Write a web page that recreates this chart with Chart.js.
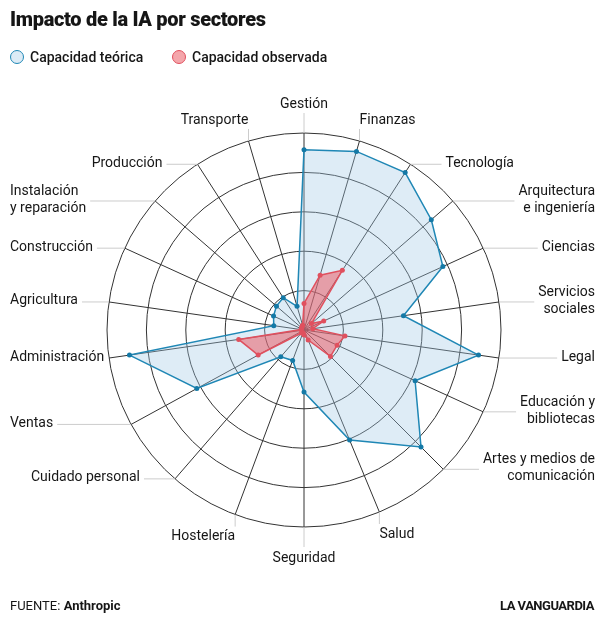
<!DOCTYPE html>
<html lang="es">
<head>
<meta charset="UTF-8">
<title>Impacto de la IA por sectores</title>
<script src="https://cdn.jsdelivr.net/npm/chart.js"></script>
<style>
  body { margin: 0; background: #fff; }
  #wrap { position: relative; width: 607px; height: 621px; overflow: hidden; font-family: Roboto, "Liberation Sans", sans-serif; color: #161616; }
  #chart { position: absolute; left: 0; top: 0; }
  h1 { position: absolute; left: 10px; top: 7px; margin: 0; font-size: 20px; line-height: 24px; font-weight: 900; letter-spacing: -0.3px; }
  .leg { position: absolute; top: 49px; font-size: 14px; line-height: 16px; font-weight: 500; }
  .leg i { display: inline-block; width: 12px; height: 12px; border-radius: 50%; vertical-align: -2px; margin-right: 6px; border: 1.5px solid; }
  #fuente { position: absolute; left: 10px; top: 598px; font-size: 13px; line-height: 16px; }
  #marca { position: absolute; right: 13px; top: 598px; font-size: 13px; line-height: 16px; font-weight: 700; letter-spacing: -0.5px; }
</style>
</head>
<body>
<div id="wrap">
  <canvas id="chart" width="607" height="621"></canvas>
  <h1>Impacto de la IA por sectores</h1>
  <div class="leg" style="left:10px"><i style="background:#dcebf6;border-color:#1f87b5"></i>Capacidad teórica</div>
  <div class="leg" style="left:172px"><i style="background:#f4a6ab;border-color:#e0505e"></i>Capacidad observada</div>
  <div id="fuente">FUENTE: <b>Anthropic</b></div>
  <div id="marca">LA VANGUARDIA</div>
</div>
<script>
// sectores, en el sentido de las agujas del reloj desde arriba
const categories = ['Gestión', 'Finanzas', 'Tecnología', ['Arquitectura', 'e ingeniería'], 'Ciencias',
  ['Servicios', 'sociales'], 'Legal', ['Educación y', 'bibliotecas'], ['Artes y medios de', 'comunicación'],
  'Salud', 'Seguridad', 'Hostelería', 'Cuidado personal', 'Ventas', 'Administración', 'Agricultura',
  'Construcción', ['Instalación', 'y reparación'], 'Producción', 'Transporte'];

// % de tareas
const teorica   = [91.5, 94.5, 95, 85.5, 77.5, 51, 89.5, 62, 84, 60.5, 31.5, 16.5, 18, 62, 89.5, 15.5, 17, 18.5, 19.5, 12.5];
const observada = [13.5, 29, 36, 5, 11, 4.5, 21, 18.5, 19, 5.5, 2.5, 1.5, 2, 26.5, 33.5, 1.5, 1.5, 1.5, 2, 2.5];

const ticks = [0, 20, 40, 60, 80, 100];

// los radios no están repartidos por igual: cada sector ocupa una posición de una rejilla de 176 pasos
const slots = 176;
const spokeSlot = [0, 8, 16, 24, 32, 40, 48, 56, 66, 77, 88, 98, 108, 118, 128, 136, 144, 152, 160, 168];

function toSlots(values) {
  const out = new Array(slots).fill(null);
  spokeSlot.forEach((s, i) => { out[s] = values[i]; });
  return out;
}
const slotLabels = toSlots(categories).map(l => l === null ? '' : l);
const used = new Set(spokeSlot);

const sectorLabels = {
  id: 'sectorLabels',
  afterDraw(chart) {
    const scale = chart.scales.r;
    const ctx = chart.ctx;
    const lh = 17, gap = 35;
    ctx.save();
    ctx.font = '14px Roboto, "Liberation Sans", sans-serif';
    ctx.fillStyle = '#161616';
    ctx.strokeStyle = '#cccccc';
    ctx.lineWidth = 1;
    ctx.textBaseline = 'middle';
    spokeSlot.forEach((slot, i) => {
      const lines = [].concat(categories[i]);
      const end = scale.getPointPosition(slot, scale.drawingArea);
      const a = scale.getIndexAngle(slot);
      const sin = Math.sin(a), cos = Math.cos(a);
      ctx.beginPath();
      if (Math.abs(sin) < 0.45) {
        // arriba y abajo: guía vertical
        const dir = cos > 0 ? -1 : 1;
        const centred = Math.abs(sin) < 0.01;
        const y2 = end.y + dir * (centred ? 20 : 12);
        ctx.moveTo(end.x, end.y);
        ctx.lineTo(end.x, y2);
        ctx.stroke();
        ctx.textAlign = centred ? 'center' : (sin > 0 ? 'left' : 'right');
        ctx.fillText(lines[0], end.x, y2 + dir * (centred ? 10 : 9) + 1);
      } else {
        // laterales: guía horizontal, pegadas al margen si el radio es casi horizontal
        const right = sin > 0;
        const w = Math.max(...lines.map(l => ctx.measureText(l).width));
        const toEdge = Math.abs(sin) > 0.7;
        let edge, tx, align;
        if (right) {
          edge = toEdge ? 595 - w : end.x + gap;
          tx = toEdge ? 595 : edge;
          align = toEdge ? 'right' : 'left';
        } else {
          edge = toEdge ? 10 + w : end.x - gap;
          tx = toEdge ? 10 : edge;
          align = toEdge ? 'left' : 'right';
        }
        ctx.moveTo(end.x, end.y);
        ctx.lineTo(right ? edge - 4 : edge + 4, end.y);
        ctx.stroke();
        ctx.textAlign = align;
        const y0 = end.y - 1 - (lines.length - 1) * lh / 2;
        lines.forEach((l, k) => ctx.fillText(l, tx, y0 + k * lh));
      }
    });
    ctx.restore();
  }
};

new Chart(document.getElementById('chart'), {
  type: 'radar',
  data: {
    labels: slotLabels,
    datasets: [
      {
        label: 'Capacidad teórica',
        data: toSlots(teorica),
        spanGaps: true,
        fill: 'origin',
        order: 2,
        borderColor: '#1f87b5',
        borderWidth: 1.5,
        backgroundColor: 'rgba(160, 200, 230, 0.35)',
        pointRadius: 2.5,
        pointBorderWidth: 0,
        pointBackgroundColor: '#1479a6'
      },
      {
        label: 'Capacidad observada',
        data: toSlots(observada),
        spanGaps: true,
        fill: 'origin',
        order: 1,
        borderColor: '#e0505e',
        borderWidth: 1.5,
        backgroundColor: 'rgba(235, 80, 90, 0.5)',
        pointRadius: 2.5,
        pointBorderWidth: 0,
        pointBackgroundColor: '#e0505e'
      }
    ]
  },
  options: {
    responsive: false,
    animation: false,
    layout: { padding: { top: 133, bottom: 94, left: 11, right: 10 } },
    plugins: { legend: { display: false }, tooltip: { enabled: false } },
    scales: {
      r: {
        min: ticks[0],
        max: ticks[ticks.length - 1],
        ticks: { display: false, stepSize: ticks[1] - ticks[0] },
        pointLabels: { display: false },
        grid: { circular: true, color: '#333', lineWidth: 1 },
        angleLines: {
          color: c => used.has(c.index) ? '#333' : 'transparent',
          lineWidth: c => used.has(c.index) ? 1 : 0
        }
      }
    }
  },
  plugins: [sectorLabels]
});
</script>
</body>
</html>
